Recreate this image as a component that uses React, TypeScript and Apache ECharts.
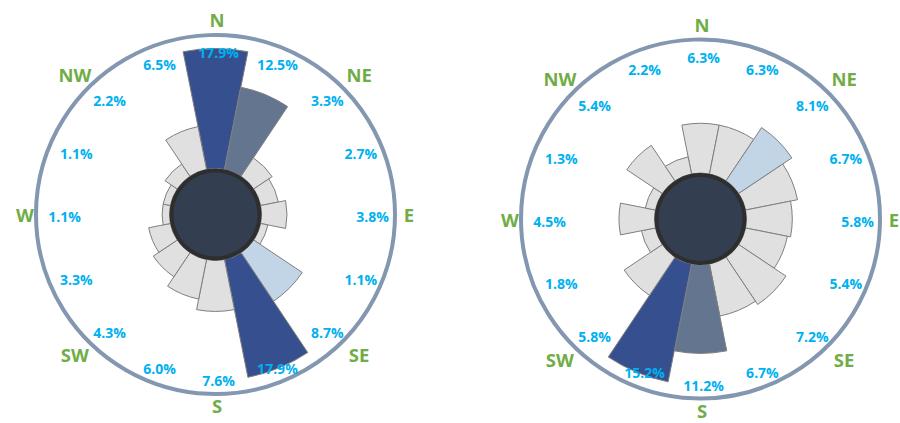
import React, { useEffect, useRef } from "react";
import * as echarts from "echarts";

const DIRECTIONS = ["N", "NNE", "NE", "ENE", "E", "ESE", "SE", "SSE", "S", "SSW", "SW", "WSW", "W", "WNW", "NW", "NNW"];
const LEFT_VALUES = [17.9, 12.5, 3.3, 2.7, 3.8, 1.1, 8.7, 17.9, 7.6, 6.0, 4.3, 3.3, 1.1, 1.1, 2.2, 6.5];
const RIGHT_VALUES = [6.3, 6.3, 8.1, 6.7, 5.8, 5.4, 7.2, 6.7, 11.2, 15.2, 5.8, 1.8, 4.5, 1.3, 5.4, 2.2];
const COMPASS_LABELS = ["N", "NE", "E", "SE", "S", "SW", "W", "NW"];

const RANK_COLORS = ["#36508f", "#64758f", "#c2d5e7"];
const BASE_COLOR = "#e0e0e0";
const GREEN = "#70ad47";
const CYAN = "#00b0f0";
const FONT = "'Open Sans', Lato, sans-serif";

const CHARTS = [
  { values: LEFT_VALUES, center: [215.5, 214.5] },
  { values: RIGHT_VALUES, center: [700.5, 219] },
];

const INNER_R = 46;
const OUTER_R = 166;
const RING_R = 179.5;

function colorFor(values: number[], v: number): string {
  const uniq = Array.from(new Set(values)).sort((a, b) => b - a);
  const rank = uniq.indexOf(v);
  return rank < RANK_COLORS.length ? RANK_COLORS[rank] : BASE_COLOR;
}

export default function App() {
  const ref = useRef<HTMLDivElement>(null);
  useEffect(() => {
    if (!ref.current) return;
    const chart = echarts.init(ref.current, undefined, { renderer: "svg" });

    const polar: any[] = [];
    const angleAxis: any[] = [];
    const radiusAxis: any[] = [];
    const series: any[] = [];
    const graphic: any[] = [];

    CHARTS.forEach((c, i) => {
      const max = Math.max(...c.values);
      polar.push({ center: c.center, radius: [INNER_R, OUTER_R] });
      angleAxis.push({
        polarIndex: i,
        type: "category",
        data: DIRECTIONS,
        startAngle: 90 + 360 / DIRECTIONS.length / 2,
        clockwise: true,
        boundaryGap: true,
        axisLine: { show: false },
        axisTick: { show: false },
        axisLabel: { show: false },
        splitLine: { show: false },
      });
      radiusAxis.push({
        polarIndex: i,
        type: "value",
        min: 0,
        max,
        axisLine: { show: false },
        axisTick: { show: false },
        axisLabel: { show: false },
        splitLine: { show: false },
      });
      series.push({
        type: "bar",
        coordinateSystem: "polar",
        polarIndex: i,
        barCategoryGap: "0%",
        data: c.values.map((v) => ({
          value: v,
          itemStyle: { color: colorFor(c.values, v) },
        })),
        itemStyle: { borderColor: "#7f7f7f", borderWidth: 1 },
        silent: true,
      });

      const [cx, cy] = c.center;
      graphic.push({
        type: "circle",
        z: 100,
        shape: { cx, cy, r: RING_R },
        style: { fill: "none", stroke: "#8497b0", lineWidth: 4 },
      });
      graphic.push({
        type: "circle",
        z: 101,
        shape: { cx, cy, r: INNER_R - 2 },
        style: { fill: "#333f50", stroke: "#2e2e2e", lineWidth: 4 },
      });
      c.values.forEach((v, k) => {
        const a = (k * 2 * Math.PI) / DIRECTIONS.length;
        graphic.push({
          type: "text",
          z: 102,
          x: cx + 3 + 154 * Math.sin(a),
          y: cy + 2 - 164 * Math.cos(a),
          style: {
            text: v.toFixed(1) + "%",
            fill: CYAN,
            fontSize: 14,
            lineHeight: 14,
            fontWeight: "bold",
            fontFamily: FONT,
            align: "center",
            verticalAlign: "middle",
          },
        });
      });
      COMPASS_LABELS.forEach((lab, k) => {
        const a = (k * 2 * Math.PI) / COMPASS_LABELS.length;
        const diag = k % 2 === 1;
        const up = Math.cos(a) > 0;
        const rx = diag ? 201 : 192;
        const ry = diag ? 198 : up ? 195 : 191;
        graphic.push({
          type: "text",
          z: 102,
          x: cx + 1.5 + rx * Math.sin(a),
          y: cy - ry * Math.cos(a),
          style: {
            text: lab,
            fill: GREEN,
            fontSize: 18.5,
            lineHeight: 18,
            fontWeight: "bold",
            fontFamily: FONT,
            align: "center",
            verticalAlign: "middle",
          },
        });
      });
    });

    chart.setOption({
      animation: false,
      backgroundColor: "#ffffff",
      polar,
      angleAxis,
      radiusAxis,
      series,
      graphic,
    });
    return () => chart.dispose();
  }, []);

  return (
    <div
      ref={ref}
      style={{ position: "fixed", left: 0, top: 0, width: 900, height: 423 }}
    />
  );
}
